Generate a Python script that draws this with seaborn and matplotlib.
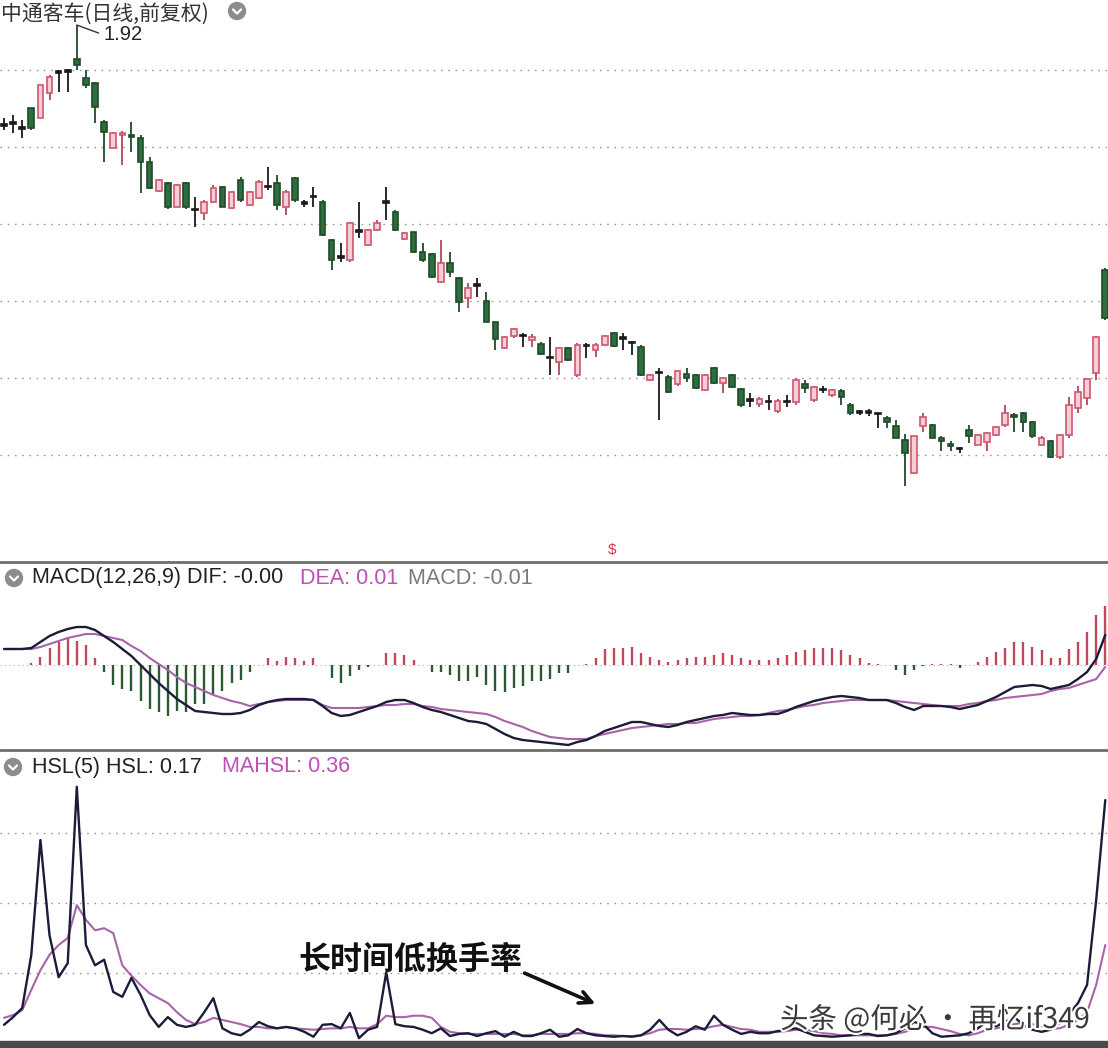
import numpy as np
import pandas as pd
import matplotlib
matplotlib.use("Agg")
import matplotlib.pyplot as plt
import seaborn as sns
from matplotlib.patches import Ellipse, Rectangle
from matplotlib.lines import Line2D
import matplotlib.patheffects as pe

# ---------------- data ----------------
open_ = [1.657, 1.662, 1.649, 1.701, 1.675, 1.740, 1.795, 1.798, 1.828, 1.779,
         1.766, 1.665, 1.597, 1.630, 1.631, 1.623, 1.561, 1.485, 1.506, 1.444,
         1.506, 1.440, 1.428, 1.457, 1.496, 1.441, 1.514, 1.449, 1.467, 1.500,
         1.506, 1.444, 1.519, 1.457, 1.474, 1.457, 1.358, 1.316, 1.306, 1.384,
         1.345, 1.384, 1.460, 1.431, 1.362, 1.379, 1.327, 1.322, 1.249, 1.299,
         1.259, 1.207, 1.243, 1.200, 1.145, 1.078, 1.108, 1.112, 1.098, 1.088,
         1.055, 1.041, 1.077, 1.007, 1.085, 1.072, 1.085, 1.117, 1.106, 1.093,
         1.080, 0.994, 1.015, 1.002, 0.984, 1.010, 1.007, 0.969, 1.025, 0.987,
         1.007, 0.970, 0.945, 0.932, 0.940, 0.914, 0.940, 0.937, 0.985, 0.942,
         0.972, 0.955, 0.965, 0.930, 0.915, 0.914, 0.910, 0.895, 0.875, 0.840,
         0.753, 0.875, 0.878, 0.845, 0.828, 0.818, 0.865, 0.827, 0.833, 0.852,
         0.877, 0.905, 0.910, 0.885, 0.827, 0.835, 0.795, 0.852, 0.922, 0.948,
         1.012, 1.280]
high = [1.675, 1.683, 1.670, 1.701, 1.761, 1.787, 1.800, 1.802, 1.917, 1.800,
        1.770, 1.670, 1.640, 1.642, 1.665, 1.630, 1.574, 1.517, 1.510, 1.503,
        1.510, 1.470, 1.462, 1.501, 1.500, 1.485, 1.522, 1.485, 1.514, 1.548,
        1.527, 1.488, 1.522, 1.462, 1.496, 1.462, 1.360, 1.350, 1.405, 1.457,
        1.387, 1.410, 1.496, 1.436, 1.379, 1.380, 1.350, 1.325, 1.358, 1.327,
        1.262, 1.246, 1.260, 1.223, 1.145, 1.108, 1.130, 1.117, 1.114, 1.093,
        1.106, 1.080, 1.080, 1.090, 1.090, 1.090, 1.112, 1.120, 1.117, 1.096,
        1.085, 1.010, 1.025, 1.007, 1.020, 1.025, 1.010, 1.010, 1.028, 1.002,
        1.010, 0.975, 0.960, 0.950, 0.955, 0.945, 0.955, 1.000, 0.995, 0.980,
        0.980, 0.972, 0.970, 0.935, 0.918, 0.920, 0.910, 0.900, 0.890, 0.855,
        0.850, 0.910, 0.880, 0.848, 0.835, 0.820, 0.878, 0.855, 0.860, 0.875,
        0.930, 0.910, 0.912, 0.888, 0.848, 0.840, 0.855, 0.950, 0.980, 1.000,
        1.108, 1.285]
low = [1.644, 1.636, 1.623, 1.644, 1.675, 1.722, 1.743, 1.743, 1.800, 1.753,
       1.662, 1.561, 1.597, 1.553, 1.587, 1.480, 1.490, 1.483, 1.440, 1.444,
       1.440, 1.392, 1.410, 1.455, 1.444, 1.440, 1.457, 1.446, 1.465, 1.488,
       1.436, 1.423, 1.457, 1.444, 1.444, 1.368, 1.280, 1.300, 1.300, 1.363,
       1.342, 1.382, 1.410, 1.382, 1.358, 1.325, 1.300, 1.260, 1.246, 1.262,
       1.171, 1.181, 1.210, 1.145, 1.072, 1.075, 1.104, 1.080, 1.080, 1.059,
       1.007, 1.007, 1.043, 1.002, 1.051, 1.054, 1.082, 1.080, 1.072, 1.059,
       1.004, 0.992, 0.890, 0.960, 0.980, 0.990, 0.972, 0.966, 0.984, 0.960,
       0.974, 0.925, 0.925, 0.925, 0.916, 0.910, 0.925, 0.930, 0.960, 0.938,
       0.960, 0.950, 0.930, 0.905, 0.905, 0.900, 0.870, 0.870, 0.843, 0.720,
       0.750, 0.860, 0.843, 0.810, 0.810, 0.805, 0.830, 0.825, 0.810, 0.850,
       0.872, 0.860, 0.860, 0.845, 0.825, 0.793, 0.790, 0.845, 0.910, 0.930,
       0.994, 1.150]
close = [1.655, 1.660, 1.647, 1.649, 1.761, 1.782, 1.793, 1.796, 1.812, 1.761,
         1.704, 1.639, 1.636, 1.637, 1.625, 1.561, 1.493, 1.514, 1.444, 1.501,
         1.444, 1.436, 1.457, 1.493, 1.444, 1.483, 1.462, 1.483, 1.509, 1.496,
         1.449, 1.483, 1.462, 1.452, 1.470, 1.371, 1.306, 1.311, 1.402, 1.379,
         1.384, 1.402, 1.455, 1.384, 1.376, 1.327, 1.306, 1.262, 1.299, 1.275,
         1.197, 1.233, 1.238, 1.145, 1.100, 1.106, 1.127, 1.108, 1.106, 1.062,
         1.051, 1.077, 1.046, 1.085, 1.082, 1.085, 1.108, 1.082, 1.102, 1.090,
         1.007, 1.007, 1.012, 0.963, 1.017, 1.000, 0.974, 1.007, 0.987, 0.999,
         0.976, 0.930, 0.940, 0.945, 0.937, 0.940, 0.937, 0.994, 0.975, 0.976,
         0.968, 0.968, 0.950, 0.910, 0.910, 0.910, 0.906, 0.885, 0.845, 0.805,
         0.848, 0.898, 0.845, 0.835, 0.822, 0.815, 0.850, 0.852, 0.857, 0.872,
         0.908, 0.898, 0.885, 0.848, 0.845, 0.795, 0.852, 0.930, 0.963, 0.998,
         1.106, 1.156]

dif = [0.016, 0.016, 0.016, 0.017, 0.023, 0.029, 0.033, 0.036, 0.038, 0.038,
       0.035, 0.029, 0.023, 0.016, 0.009, 0.000, -0.009, -0.018, -0.026, -0.034,
       -0.040, -0.046, -0.047, -0.048, -0.049, -0.049, -0.048, -0.045, -0.040, -0.037,
       -0.035, -0.034, -0.034, -0.034, -0.035, -0.041, -0.048, -0.051, -0.050, -0.047,
       -0.044, -0.041, -0.037, -0.035, -0.035, -0.038, -0.042, -0.045, -0.047, -0.050,
       -0.053, -0.056, -0.057, -0.059, -0.064, -0.069, -0.073, -0.075, -0.076, -0.077,
       -0.078, -0.079, -0.080, -0.077, -0.075, -0.071, -0.066, -0.063, -0.060, -0.057,
       -0.057, -0.059, -0.061, -0.062, -0.060, -0.057, -0.055, -0.053, -0.051, -0.050,
       -0.048, -0.049, -0.050, -0.050, -0.049, -0.049, -0.046, -0.042, -0.039, -0.036,
       -0.034, -0.032, -0.031, -0.032, -0.033, -0.035, -0.035, -0.035, -0.038, -0.042,
       -0.045, -0.041, -0.041, -0.041, -0.042, -0.044, -0.042, -0.040, -0.036, -0.032,
       -0.027, -0.022, -0.021, -0.020, -0.021, -0.024, -0.022, -0.020, -0.014, -0.007,
       0.006, 0.030]
dea = [0.016, 0.016, 0.016, 0.016, 0.018, 0.021, 0.024, 0.027, 0.029, 0.031,
       0.031, 0.029, 0.027, 0.025, 0.019, 0.014, 0.007, 0.001, -0.005, -0.012,
       -0.018, -0.022, -0.026, -0.030, -0.033, -0.036, -0.038, -0.041, -0.039, -0.037,
       -0.036, -0.035, -0.035, -0.035, -0.035, -0.040, -0.043, -0.043, -0.043, -0.043,
       -0.042, -0.041, -0.040, -0.040, -0.039, -0.039, -0.041, -0.042, -0.044, -0.045,
       -0.046, -0.047, -0.048, -0.049, -0.052, -0.056, -0.059, -0.062, -0.066, -0.069,
       -0.072, -0.073, -0.074, -0.074, -0.074, -0.071, -0.069, -0.067, -0.065, -0.063,
       -0.062, -0.061, -0.060, -0.059, -0.059, -0.058, -0.058, -0.056, -0.054, -0.053,
       -0.052, -0.051, -0.051, -0.050, -0.048, -0.046, -0.045, -0.043, -0.041, -0.040,
       -0.038, -0.037, -0.036, -0.035, -0.035, -0.035, -0.035, -0.035, -0.036, -0.037,
       -0.038, -0.039, -0.040, -0.041, -0.041, -0.041, -0.039, -0.038, -0.036, -0.035,
       -0.033, -0.032, -0.031, -0.030, -0.029, -0.026, -0.024, -0.023, -0.020, -0.017,
       -0.014, -0.002]
macd_bar = [0.000, 0.000, 0.000, 0.002, 0.008, 0.017, 0.023, 0.027, 0.024, 0.020,
            0.007, -0.007, -0.020, -0.024, -0.026, -0.036, -0.044, -0.047, -0.051, -0.046,
            -0.047, -0.039, -0.039, -0.029, -0.026, -0.018, -0.015, -0.007, 0.000, 0.007,
            0.004, 0.008, 0.007, 0.004, 0.007, 0.000, -0.013, -0.018, -0.011, -0.005,
            -0.002, 0.000, 0.012, 0.012, 0.010, 0.005, 0.000, -0.007, -0.007, -0.010,
            -0.016, -0.016, -0.012, -0.020, -0.026, -0.027, -0.023, -0.021, -0.016, -0.016,
            -0.014, -0.008, -0.008, 0.000, 0.001, 0.007, 0.016, 0.017, 0.017, 0.018,
            0.012, 0.008, 0.005, 0.003, 0.005, 0.007, 0.008, 0.008, 0.010, 0.012,
            0.010, 0.007, 0.005, 0.005, 0.005, 0.007, 0.010, 0.013, 0.015, 0.017,
            0.017, 0.017, 0.015, 0.010, 0.007, 0.002, 0.001, 0.000, -0.005, -0.010,
            -0.005, -0.001, 0.001, 0.001, 0.001, -0.003, 0.000, 0.003, 0.008, 0.013,
            0.017, 0.023, 0.023, 0.018, 0.015, 0.007, 0.007, 0.016, 0.023, 0.033,
            0.050, 0.059]

hsl = [0.26, 0.37, 0.50, 1.26, 2.90, 1.54, 0.94, 1.14, 3.66, 1.40,
       1.11, 1.19, 0.73, 0.66, 0.93, 0.69, 0.40, 0.23, 0.37, 0.26,
       0.23, 0.26, 0.44, 0.64, 0.21, 0.14, 0.11, 0.19, 0.30, 0.24,
       0.21, 0.23, 0.21, 0.16, 0.09, 0.26, 0.27, 0.21, 0.43, 0.07,
       0.19, 0.23, 1.01, 0.27, 0.24, 0.23, 0.19, 0.14, 0.21, 0.10,
       0.13, 0.14, 0.10, 0.14, 0.17, 0.09, 0.16, 0.10, 0.10, 0.14,
       0.19, 0.09, 0.11, 0.20, 0.14, 0.11, 0.10, 0.09, 0.10, 0.09,
       0.11, 0.19, 0.33, 0.19, 0.11, 0.16, 0.24, 0.19, 0.39, 0.26,
       0.19, 0.13, 0.16, 0.14, 0.14, 0.17, 0.19, 0.21, 0.16, 0.11,
       0.10, 0.09, 0.10, 0.11, 0.13, 0.13, 0.10, 0.11, 0.14, 0.21,
       0.30, 0.27, 0.14, 0.09, 0.10, 0.11, 0.14, 0.21, 0.31, 0.24,
       0.30, 0.37, 0.26, 0.19, 0.16, 0.19, 0.29, 0.41, 0.57, 0.83,
       2.04, 3.47]
mahsl = [0.36, 0.40, 0.47, 0.76, 1.04, 1.26, 1.40, 1.50, 1.97, 1.76,
         1.61, 1.64, 1.57, 1.11, 0.96, 0.83, 0.71, 0.64, 0.57, 0.44,
         0.33, 0.27, 0.30, 0.36, 0.33, 0.30, 0.27, 0.23, 0.23, 0.21,
         0.21, 0.23, 0.21, 0.20, 0.19, 0.20, 0.21, 0.21, 0.23, 0.21,
         0.21, 0.27, 0.39, 0.37, 0.37, 0.39, 0.39, 0.36, 0.23, 0.16,
         0.14, 0.13, 0.13, 0.13, 0.13, 0.13, 0.13, 0.11, 0.11, 0.13,
         0.13, 0.13, 0.13, 0.14, 0.14, 0.13, 0.11, 0.11, 0.10, 0.10,
         0.11, 0.14, 0.19, 0.20, 0.20, 0.19, 0.20, 0.21, 0.24, 0.26,
         0.23, 0.20, 0.19, 0.16, 0.16, 0.16, 0.17, 0.19, 0.19, 0.17,
         0.14, 0.13, 0.11, 0.11, 0.11, 0.11, 0.11, 0.11, 0.13, 0.16,
         0.20, 0.23, 0.23, 0.20, 0.17, 0.13, 0.11, 0.14, 0.19, 0.21,
         0.24, 0.27, 0.29, 0.27, 0.24, 0.21, 0.21, 0.26, 0.33, 0.44,
         0.83, 1.40]

price_title = "中通客车(日线,前复权)"
macd_labels = ["MACD(12,26,9) DIF: -0.00", "DEA: 0.01", "MACD: -0.01"]
hsl_labels = ["HSL(5) HSL: 0.17", "MAHSL: 0.36"]
note_text = "长时间低换手率"
watermark = "头条 @何必 · 再忆if349"
price_grid = [0.8, 1.0, 1.2, 1.4, 1.6, 1.8]
hsl_grid = [1, 2, 3]

# ---------------- style ----------------
sns.set_theme(style="white")
plt.rcParams['font.family'] = ['Liberation Sans', 'Noto Sans CJK SC', 'DejaVu Sans']

W, H = 1108, 1048
fig = plt.figure(figsize=(W / 100, H / 100), dpi=100)
fig.patch.set_facecolor('white')


def band(top, bottom):
    return [0, 1 - bottom / H, 1, (bottom - top) / H]


ax1 = fig.add_axes(band(0, 560))
ax2 = fig.add_axes(band(563, 750))
ax3 = fig.add_axes(band(752, 1048))

n = len(close)
idx = np.arange(n)
XL = (-0.44, 121.3)
for ax in (ax1, ax2, ax3):
    ax.set_xlim(*XL)
    for s in ax.spines.values():
        s.set_visible(False)
    ax.set_xticks([])
    ax.tick_params(left=False, bottom=False, labelleft=False, labelbottom=False)
    ax.set_facecolor('white')

GRID = dict(color='#9a9a9a', lw=1.0, linestyle=(0, (1.2, 4)))

# ---------------- price (candles) ----------------
df = pd.DataFrame(dict(idx=idx, o=open_, h=high, l=low, c=close))
d = df.c - df.o
kind = np.where(d > 0.006, 'up', np.where(d < -0.006, 'down', 'flat'))
face = {'up': '#f6cfd6', 'down': '#2e6e3d', 'flat': '#222222'}
edge = {'up': '#d0566e', 'down': '#1f4a29', 'flat': '#1a1a1a'}
wick = {'up': '#b2485e', 'down': '#1f4a29', 'flat': '#1a1a1a'}

ax1.set_ylim(0.527, 1.982)
ax1.set_yticks(price_grid)
ax1.yaxis.grid(True, **GRID)
ax1.set_axisbelow(True)
ax1.vlines(df.idx, df.l, df.h, colors=[wick[k] for k in kind], lw=1.3, zorder=2)
bottoms = np.minimum(df.o, df.c)
heights = np.maximum(np.abs(d), 0.004)
ax1.bar(df.idx, heights, bottom=bottoms, width=0.62,
        color=[face[k] for k in kind], edgecolor=[edge[k] for k in kind],
        linewidth=1.2, zorder=3)

imax = int(np.argmax(high))
ax1.annotate(f"{high[imax]:.2f}", xy=(imax, high[imax]), xytext=(19, -7),
             textcoords='offset points', ha='left', va='center', fontsize=14.5,
             color='#222222',
             arrowprops=dict(arrowstyle='-', color='#333333', lw=1.0,
                             shrinkA=1, shrinkB=0, relpos=(0, 0.5)))

# ---------------- MACD ----------------
ax2.set_ylim(-0.085, 0.102)
ax2.axhline(0, color='#b0b0b0', lw=0.8, linestyle=(0, (1, 3)), zorder=1)
bar_cols = np.where(np.array(macd_bar) >= 0, '#c0485c', '#2a5a35')
ax2.vlines(idx, 0, macd_bar, colors=bar_cols, lw=1.7, zorder=2)
mdf = pd.DataFrame(dict(idx=idx, dif=dif, dea=dea))
sns.lineplot(data=mdf, x='idx', y='dea', ax=ax2, color='#a864a8', lw=1.5, zorder=3)
sns.lineplot(data=mdf, x='idx', y='dif', ax=ax2, color='#1c1c38', lw=1.7, zorder=4)
ax2.set_xlabel('')
ax2.set_ylabel('')

# ---------------- HSL ----------------
ax3.set_ylim(-0.071, 4.157)
ax3.set_yticks(hsl_grid)
ax3.yaxis.grid(True, **GRID)
ax3.set_axisbelow(True)
hdf = pd.DataFrame(dict(idx=idx, hsl=hsl, mahsl=mahsl))
sns.lineplot(data=hdf, x='idx', y='mahsl', ax=ax3, color='#a864a8', lw=1.5, zorder=3)
sns.lineplot(data=hdf, x='idx', y='hsl', ax=ax3, color='#1c1c38', lw=1.7, zorder=4)
ax3.set_xlabel('')
ax3.set_ylabel('')

# ---------------- decorations ----------------
def fx(x):
    return x / W


def fy(y):
    return 1 - y / H


for yy in (562, 750):
    fig.add_artist(Line2D([0, 1], [fy(yy), fy(yy)], color='#6e6e6e', lw=2.0,
                          transform=fig.transFigure))
fig.add_artist(Rectangle((0, 0), 1, 7 / H, transform=fig.transFigure,
                         color='#4a4a4a', zorder=5))


def icon(xp, yp, r=8.5):
    fig.add_artist(Ellipse((fx(xp), fy(yp)), 2 * r / W, 2 * r / H,
                           transform=fig.transFigure, color='#8c8c8c', zorder=6))
    fig.add_artist(Line2D([fx(xp - 4), fx(xp), fx(xp + 4)],
                          [fy(yp - 1.5), fy(yp + 2.5), fy(yp - 1.5)],
                          color='white', lw=1.6, transform=fig.transFigure, zorder=7))


fig.text(fx(1), fy(3), price_title, fontsize=15, color='#333333', va='top',
         family=['Noto Sans CJK SC', 'DejaVu Sans'])
icon(237, 11)

icon(14, 578)
fig.text(fx(32), fy(578), macd_labels[0], fontsize=15.5, color='#222222', va='center')
fig.text(fx(300), fy(578), macd_labels[1], fontsize=15.5, color='#c04fb4', va='center')
fig.text(fx(408), fy(578), macd_labels[2], fontsize=15.5, color='#7a7a7a', va='center')

icon(13, 767)
fig.text(fx(32), fy(767), hsl_labels[0], fontsize=15.5, color='#222222', va='center')
fig.text(fx(222), fy(767), hsl_labels[1], fontsize=15.5, color='#c04fb4', va='center')

fig.text(fx(612), fy(550), "$", fontsize=11, color='#d03a4a', ha='center', va='center')

fig.text(fx(298), fy(960), note_text, fontsize=23, fontweight='bold', color='#111111',
         va='center', family=['Noto Sans CJK SC', 'DejaVu Sans'])
fig.add_artist(matplotlib.patches.FancyArrowPatch(
    (fx(522), fy(972)), (fx(598), fy(1005)), transform=fig.transFigure,
    arrowstyle='->', mutation_scale=22, lw=2.6, color='#111111', zorder=8))

fig.text(fx(780), fy(1020), watermark, fontsize=20.5, color='#3a3a3a', va='center',
         family=['Noto Sans CJK SC', 'DejaVu Sans'],
         path_effects=[pe.withStroke(linewidth=3, foreground='white')], zorder=9)

fig.savefig("out.png", dpi=100, facecolor='white')
